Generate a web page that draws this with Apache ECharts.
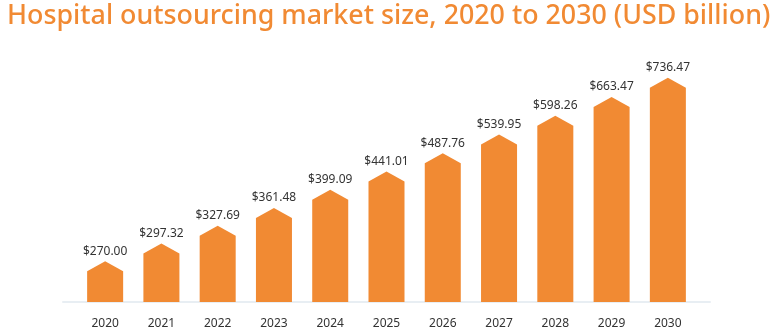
<!DOCTYPE html>
<html>
<head>
<meta charset="utf-8">
<script src="https://cdn.jsdelivr.net/npm/echarts@6/dist/echarts.min.js"></script>
<style>html,body{margin:0;padding:0;background:#fff;}#c{width:773px;height:331px;}</style>
</head>
<body>
<div id="c"></div>
<script>
const titleText = 'Hospital outsourcing market size, 2020 to 2030 (USD billion)';
const years = ['2020','2021','2022','2023','2024','2025','2026','2027','2028','2029','2030'];
const marketSize = [270.00, 297.32, 327.69, 361.48, 399.09, 441.01, 487.76, 539.95, 598.26, 663.47, 736.47];

const Y_MIN = 216, Y_MAX = 812;
const ORANGE = '#f18a33';
const chart = echarts.init(document.getElementById('c'), null, {renderer: 'canvas'});
chart.setOption({
  animation: false,
  title: {
    text: titleText, left: 2, top: -2,
    textStyle: {color: ORANGE, fontSize: 26.8, fontWeight: 500, fontFamily: 'Noto Sans'}
  },
  grid: [
    {left: 77, right: 77, top: 60, bottom: 29},
    {left: 63, right: 63, top: 60, bottom: 29}
  ],
  xAxis: [
    {type: 'category', data: years, gridIndex: 0,
     axisLine: {show: false}, axisTick: {show: false},
     axisLabel: {color: '#333', fontSize: 12, fontFamily: 'Noto Sans', margin: 16}},
    {type: 'value', gridIndex: 1, min: 0, max: 1,
     axisLine: {show: true, lineStyle: {color: '#e8eef3', width: 2}},
     axisTick: {show: false}, axisLabel: {show: false}, splitLine: {show: false}}
  ],
  yAxis: [
    {type: 'log', gridIndex: 0, min: Y_MIN, max: Y_MAX, show: false, splitLine: {show: false}},
    {type: 'value', gridIndex: 1, show: false}
  ],
  series: [{
    type: 'custom',
    xAxisIndex: 0, yAxisIndex: 0,
    data: marketSize.map((v, i) => [i, v]),
    renderItem: function (params, api) {
      const i = api.value(0), v = api.value(1);
      const top = api.coord([i, v]);
      const base = api.coord([i, Y_MIN]);
      const w = api.size([1, 0])[0] * 0.64;
      const peak = 10;
      const x = top[0];
      return {
        type: 'group',
        children: [
          {type: 'polygon', shape: {points: [
            [x - w / 2, base[1]], [x - w / 2, top[1] + peak], [x, top[1]],
            [x + w / 2, top[1] + peak], [x + w / 2, base[1]]]},
           style: {fill: ORANGE}},
          {type: 'text', x: x, y: top[1] - 4,
           style: {text: '$' + v.toFixed(2), textAlign: 'center', textVerticalAlign: 'bottom',
                   fill: '#333', font: '12px "Noto Sans"'}}
        ]
      };
    }
  }]
});
</script>
</body>
</html>
